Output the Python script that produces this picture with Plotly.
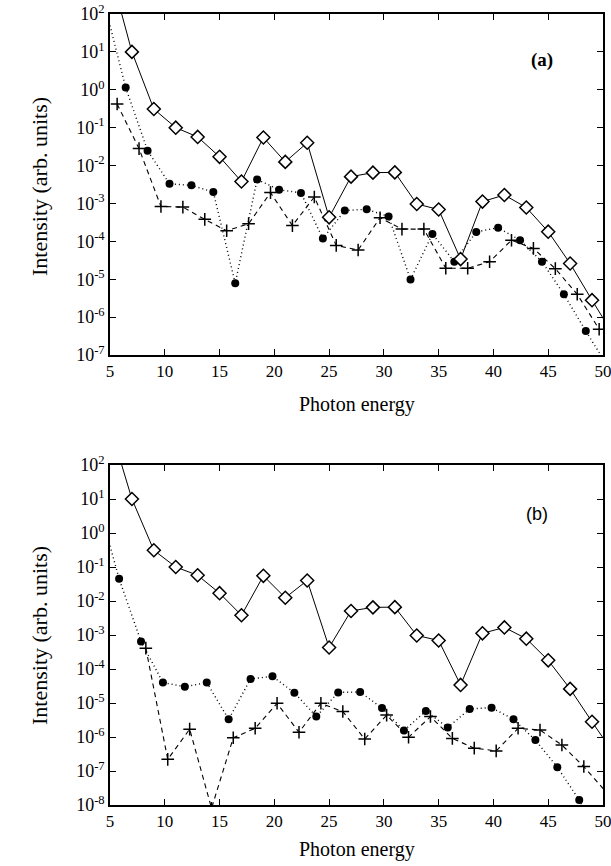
import plotly.graph_objects as go

# ---- data ----
# open diamonds (solid line) – identical in both panels
x_dia = [7, 9, 11, 13, 15, 17, 19, 21, 23, 25, 27, 29, 31, 33, 35, 37, 39, 41, 43, 45, 47, 49]
y_dia = [10, 0.31, 0.10, 0.057, 0.017, 0.0038, 0.055, 0.0125, 0.040, 4.3e-4, 5.1e-3, 6.5e-3,
         6.6e-3, 9.7e-4, 6.9e-4, 3.4e-5, 1.12e-3, 1.67e-3, 7.8e-4, 1.8e-4, 2.6e-5, 2.8e-6]
# line continues beyond the frame at both ends
x_dia_ext = [5, 51]
y_dia_ext = [1400, 3.2e-7]

# panel (a): filled circles (dotted line)
x_dot_a = [6.43, 8.43, 10.43, 12.43, 14.43, 16.43, 18.43, 20.43, 22.43, 24.43, 26.43, 28.43,
           30.43, 32.43, 34.43, 36.43, 38.43, 40.43, 42.43, 44.43, 46.43, 48.43]
y_dot_a = [1.14, 0.0247, 3.3e-3, 3.0e-3, 2.0e-3, 7.8e-6, 4.3e-3, 2.3e-3, 1.9e-3, 1.18e-4,
           6.5e-4, 7.0e-4, 4.5e-4, 9.8e-6, 1.57e-4, 2.9e-5, 1.77e-4, 2.3e-4, 1.07e-4, 2.9e-5,
           4.0e-6, 4.3e-7]
x_dot_a_ext = [5, 50.43]
y_dot_a_ext = [50, 5e-8]

# panel (a): crosses (dashed line)
x_cr_a = [5.65, 7.65, 9.65, 11.65, 13.65, 15.65, 17.65, 19.65, 21.65, 23.65, 25.65, 27.65,
          29.65, 31.65, 33.65, 35.65, 37.65, 39.65, 41.65, 43.65, 45.65, 47.65, 49.65]
y_cr_a = [0.42, 0.028, 8.3e-4, 8e-4, 3.8e-4, 1.9e-4, 2.9e-4, 1.93e-3, 2.6e-4, 1.48e-3, 7.8e-5,
          5.9e-5, 4.2e-4, 2.1e-4, 2.1e-4, 1.95e-5, 1.95e-5, 2.9e-5, 1.07e-4, 6.5e-5, 1.9e-5,
          4.0e-6, 4.8e-7]

# panel (b): filled circles (dotted line)
x_dot_b = [5.83, 7.83, 9.83, 11.83, 13.83, 15.83, 17.83, 19.83, 21.83, 23.83, 25.83, 27.83,
           29.83, 31.83, 33.83, 35.83, 37.83, 39.83, 41.83, 43.83, 45.83, 47.83]
y_dot_b = [0.045, 6.4e-4, 4.0e-5, 3.0e-5, 4.0e-5, 3.3e-6, 5.1e-5, 6.1e-5, 2.0e-5, 4.0e-6,
           2.05e-5, 2.1e-5, 7.1e-6, 1.55e-6, 5.8e-6, 1.9e-6, 6.7e-6, 7.3e-6, 3.3e-6, 8.1e-7,
           1.3e-7, 1.4e-8]
x_dot_b_ext = [5, 49.8]
y_dot_b_ext = [0.42, 1e-9]

# panel (b): crosses (dashed line)
x_cr_b = [8.27, 10.27, 12.27, 14.27, 16.25, 18.25, 20.25, 22.25, 24.25, 26.25, 28.25, 30.25,
          32.25, 34.25, 36.25, 38.25, 40.25, 42.25, 44.25, 46.25, 48.25]
y_cr_b = [4.1e-4, 2.2e-7, 1.7e-6, 8e-9, 9.5e-7, 1.8e-6, 9.8e-6, 1.38e-6, 9.8e-6, 5.6e-6, 8.7e-7,
          4.4e-6, 9.8e-7, 4.0e-6, 9.1e-7, 4.7e-7, 3.9e-7, 1.8e-6, 1.6e-6, 5.8e-7, 1.35e-7]
x_cr_b_ext = [50.25]
y_cr_b_ext = [2.5e-8]

x_ticks = [5, 10, 15, 20, 25, 30, 35, 40, 45, 50]
y_exp_a = [2, 1, 0, -1, -2, -3, -4, -5, -6, -7]
y_exp_b = [2, 1, 0, -1, -2, -3, -4, -5, -6, -7, -8]

SERIF = "Liberation Serif"

fig = go.Figure()


def series(xa, ya, xs, ys, xs_pre, ys_pre, xs_post, ys_post, line, marker):
    # line through all points (including the parts running off the frame)
    fig.add_trace(go.Scatter(
        x=xs_pre + xs + xs_post, y=ys_pre + ys + ys_post, xaxis=xa, yaxis=ya,
        mode="lines", line=line, showlegend=False, hoverinfo="skip"))
    fig.add_trace(go.Scatter(
        x=xs, y=ys, xaxis=xa, yaxis=ya, mode="markers", marker=marker, showlegend=False))


dia_line = dict(color="black", width=1)
dia_marker = dict(symbol="diamond", size=10, color="white", line=dict(color="black", width=1.5))
dot_line = dict(color="black", width=1.4, dash="1px,3px")
dot_marker = dict(symbol="circle", size=8, color="black")
cr_line = dict(color="black", width=1.1, dash="5px,4px")
cr_marker = dict(symbol="cross-thin-open", size=9, color="black", line=dict(color="black", width=1.5))

# panel (a)
series("x", "y", x_dot_a, y_dot_a, x_dot_a_ext[:1], y_dot_a_ext[:1], x_dot_a_ext[1:], y_dot_a_ext[1:], dot_line, dot_marker)
series("x", "y", x_cr_a, y_cr_a, [], [], [], [], cr_line, cr_marker)
series("x", "y", x_dia, y_dia, x_dia_ext[:1], y_dia_ext[:1], x_dia_ext[1:], y_dia_ext[1:], dia_line, dia_marker)
# panel (b)
series("x2", "y2", x_dot_b, y_dot_b, x_dot_b_ext[:1], y_dot_b_ext[:1], x_dot_b_ext[1:], y_dot_b_ext[1:], dot_line, dot_marker)
series("x2", "y2", x_cr_b, y_cr_b, [], [], x_cr_b_ext, y_cr_b_ext, cr_line, cr_marker)
series("x2", "y2", x_dia, y_dia, x_dia_ext[:1], y_dia_ext[:1], x_dia_ext[1:], y_dia_ext[1:], dia_line, dia_marker)

H = 866.0
W = 611.0
xdom = [110 / W, 603 / W]
ydom_a = [1 - 355 / H, 1 - 14 / H]
ydom_b = [1 - 805 / H, 1 - 465 / H]


def xaxis_cfg(anchor, dom):
    return dict(domain=dom, anchor=anchor, type="linear", range=[4.999, 50.001],
                tickvals=x_ticks, ticktext=[str(v) for v in x_ticks],
                ticks="inside", ticklen=6, tickwidth=1.2, tickcolor="black",
                showline=True, linecolor="black", linewidth=1.5, mirror="ticks",
                showgrid=False, zeroline=False, automargin=False,
                ticklabeloverflow="allow",
                tickfont=dict(family=SERIF, size=17, color="black"))


def yaxis_cfg(anchor, dom, exps):
    return dict(domain=dom, anchor=anchor, type="log", range=[exps[-1], exps[0]],
                tickvals=[10.0 ** e for e in exps],
                ticktext=["10<sup>%s</sup>" % e for e in exps],
                ticks="inside", ticklen=6, tickwidth=1.2, tickcolor="black",
                showline=True, linecolor="black", linewidth=1.5, mirror="ticks",
                showgrid=False, zeroline=False, automargin=False,
                ticklabeloverflow="allow",
                tickfont=dict(family=SERIF, size=18, color="black"))


fig.update_layout(
    width=611, height=866, autosize=False,
    margin=dict(l=0, r=0, t=0, b=0),
    paper_bgcolor="white", plot_bgcolor="white",
    font=dict(family=SERIF, color="black"),
    xaxis=xaxis_cfg("y", xdom),
    yaxis=yaxis_cfg("x", ydom_a, y_exp_a),
    xaxis2=xaxis_cfg("y2", xdom),
    yaxis2=yaxis_cfg("x2", ydom_b, y_exp_b),
)

titlefont = dict(family=SERIF, size=20, color="black")
ytfont = dict(family=SERIF, size=22, color="black")
ann = [
    dict(text="Photon energy", x=357, y=404, font=titlefont),
    dict(text="Photon energy", x=357, y=849, font=titlefont),
    dict(text="Intensity (arb. units)", x=39, y=187, font=ytfont, textangle=-90),
    dict(text="Intensity (arb. units)", x=39, y=636, font=ytfont, textangle=-90),
    dict(text="<b>(a)</b>", x=542, y=60, font=dict(family=SERIF, size=19, color="black")),
    dict(text="(b)", x=537, y=514, font=dict(family="Liberation Sans", size=18, color="black")),
]
for a in ann:
    fig.add_annotation(text=a["text"], xref="paper", yref="paper",
                       x=a["x"] / W, y=1 - a["y"] / H, xanchor="center", yanchor="middle",
                       showarrow=False, font=a["font"], textangle=a.get("textangle", 0))

fig.write_html("out.html")
